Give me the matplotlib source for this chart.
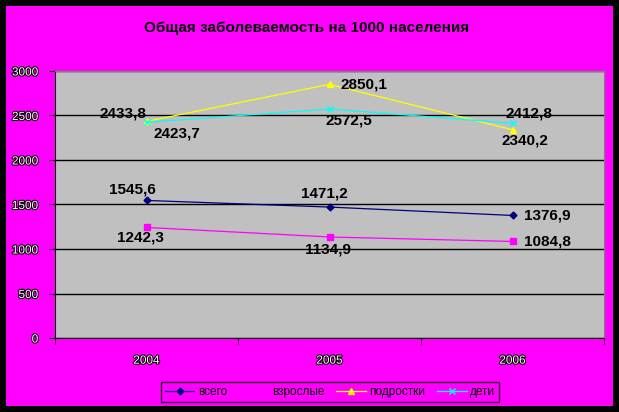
import numpy as np
import matplotlib
matplotlib.use("Agg")
import matplotlib.pyplot as plt
import matplotlib.patheffects as pe
from matplotlib.patches import Rectangle

plt.rcParams['font.family'] = ['Liberation Sans', 'DejaVu Sans']

years = ['2004', '2005', '2006']
vsego = [1545.6, 1471.2, 1376.9]
vzroslye = [1242.3, 1134.9, 1084.8]
podrostki = [2433.8, 2850.1, 2340.2]
deti = [2423.7, 2572.5, 2412.8]

# label offsets in pixels (dx, dy), per series per point
off_vsego = [(-14, 11), (-5, 14), (35, 0)]
off_vzroslye = [(-6, -10), (-1, -13), (35, 0)]
off_podrostki = [(-24, 8), (34, 0), (12, -11)]
off_deti = [(30, -11), (19, -11), (16, 10)]

fig = plt.figure(figsize=(6.19, 4.12), dpi=100)
fig.patch.set_facecolor('black')
fig.add_artist(Rectangle((6/619, 6/412), 607/619, 400/412,
                         transform=fig.transFigure, facecolor='#FF00FF',
                         edgecolor='none', zorder=-10))

ax = fig.add_axes([55/619, 74/412, 549/619, 267/412])
ax.set_facecolor('#C0C0C0')
x = np.arange(len(years))

series = [
    (vsego, '#000080', 'D', 'всего', off_vsego, 3.5),
    (vzroslye, '#FF00FF', 's', 'взрослые', off_vzroslye, 5),
    (podrostki, '#FFFF00', '^', 'подростки', off_podrostki, 5),
    (deti, '#00FFFF', 'x', 'дети', off_deti, 5),
]
for vals, col, mk, name, offs, ms in series:
    ax.plot(x, vals, color=col, marker=mk, markersize=ms, lw=0.9,
            label=name, zorder=3)
    for xi, v, (dx, dy) in zip(x, vals, offs):
        ax.annotate(f'{v:.1f}'.replace('.', ','), (xi, v),
                    xytext=(dx, dy), textcoords='offset pixels',
                    ha='center', va='center', fontsize=11,
                    fontweight='bold', color='black', zorder=4)

ax.set_xlim(-0.5, 2.5)
ax.set_ylim(0, 3000)
ax.set_yticks(np.arange(0, 3001, 500))
ax.yaxis.grid(True, color='black', lw=1)
ax.set_axisbelow(True)

ax.set_xticks(x)
ax.set_xticklabels(years)
ax.set_xticks([-0.5, 0.5, 1.5, 2.5], minor=True)
ax.tick_params(axis='x', which='major', length=0, pad=12)
ax.tick_params(axis='x', which='minor', length=4, direction='out', color='black')
ax.tick_params(axis='y', length=4, direction='out', color='black', pad=8)

outline = [pe.withStroke(linewidth=1.5, foreground='black')]
for lab in ax.get_xticklabels() + ax.get_yticklabels():
    lab.set_fontsize(8.5)
    lab.set_color('white')
    lab.set_path_effects(outline)

for s in ['left', 'bottom']:
    ax.spines[s].set_color('black')
for s in ['top', 'right']:
    ax.spines[s].set_color('#808080')

fig.text(307/619, 1 - 28/412, 'Общая заболеваемость на 1000 населения',
         ha='center', va='center', fontsize=11, fontweight='bold',
         color='black')

leg = fig.legend(loc='center', bbox_to_anchor=(330/619, 1 - 392/412),
                 ncol=4, frameon=True, fontsize=8.5, handlelength=2.5,
                 columnspacing=1.0, handletextpad=0.3, borderpad=0.3,
                 markerscale=1.0)
leg.get_frame().set_facecolor('none')
leg.get_frame().set_edgecolor('black')
leg.get_frame().set_linewidth(1)
leg.get_frame().set_boxstyle('square', pad=0)

fig.savefig('out.png', dpi=100, facecolor=fig.get_facecolor())
